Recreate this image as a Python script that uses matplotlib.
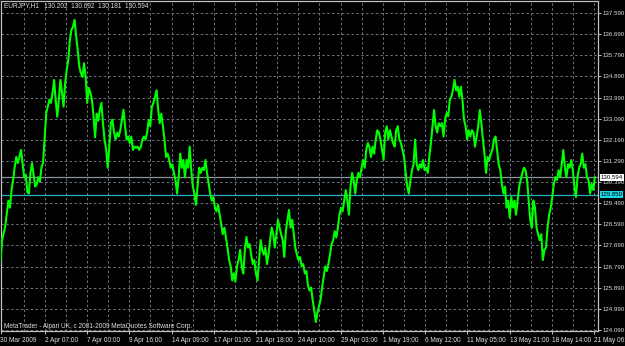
import numpy as np
import matplotlib
matplotlib.use("Agg")
import matplotlib.pyplot as plt
import matplotlib.transforms as mtransforms

plt.rcParams['font.family'] = ['Liberation Sans', 'DejaVu Sans']

symbol = "EURJPY,H1"
ohlc = [130.202, 130.692, 130.181, 130.594]
last_price = 130.594
hline_price = 129.850

date_labels = ["30 Mar 2009", "2 Apr 07:00", "7 Apr 00:00", "9 Apr 16:00", "14 Apr 09:00",
               "17 Apr 01:00", "21 Apr 18:00", "24 Apr 10:00", "29 Apr 03:00", "1 May 19:00",
               "6 May 12:00", "11 May 05:00", "13 May 21:00", "18 May 14:00", "21 May 06:00"]
price_ticks = [124.09, 124.99, 125.89, 126.79, 127.69, 128.59, 129.49, 130.39,
               131.29, 132.19, 133.09, 133.99, 134.89, 135.79, 136.69, 137.59]

# hourly closes (one value every ~2.5 bars)
close_prices = [
    127.0, 127.92, 128.2, 128.5, 129.07, 129.6, 129.3, 130.05, 130.48, 131.03, 131.46, 131.2,
    131.46, 131.76, 131.2, 130.6, 130.7, 129.97, 129.9, 130.78, 131.2, 130.7, 130.2, 130.3,
    130.6, 130.4, 131.03, 131.2, 132.3, 133.33, 133.6, 133.9, 133.76, 134.18, 134.74, 133.9,
    133.17, 133.9, 134.74, 134.2, 133.6, 134.6, 135.16, 135.6, 136.44, 136.87, 137.0, 137.3,
    136.6, 136.0, 135.3, 135.03, 134.87, 135.45, 134.87, 133.76, 134.4, 134.2, 133.9, 133.2,
    132.3, 133.3, 133.0, 133.47, 133.76, 132.9, 132.18, 131.8, 131.0, 131.9, 132.9, 133.05,
    132.5, 132.2, 132.5, 132.33, 132.6, 133.05, 133.47, 132.77, 132.2, 132.33, 132.05, 132.33,
    131.76, 131.9, 131.85, 131.9, 131.76, 131.9, 132.2, 132.33,
    132.2, 132.5, 133.03, 132.77, 133.6, 133.76, 134.02, 134.3, 133.47, 132.9, 133.3, 132.77,
    132.2, 131.46, 131.6, 131.33, 131.0, 131.15, 130.78, 130.48, 129.9, 130.6, 131.6, 131.0,
    131.33, 130.6, 131.33, 131.0, 131.9, 130.9, 130.2, 129.9, 129.42, 130.2, 131.0, 130.78,
    131.0, 130.9, 131.33, 130.78, 130.33, 129.9, 129.6, 129.75, 129.3, 129.14, 129.42, 129.0,
    128.6, 128.17, 128.45, 128.03, 127.6, 127.07, 126.8, 126.2, 126.5, 126.15, 126.8, 127.07,
    127.5, 126.8, 126.5, 127.5, 128.05, 127.6, 127.75, 127.3, 126.9, 127.07, 126.5, 126.2,
    127.07, 127.92, 127.5, 127.3, 127.6, 126.9, 127.3, 127.92, 128.45, 128.17, 127.6, 128.17,
    128.78, 128.45, 128.17, 127.92, 127.2, 128.3, 128.78,
    129.2, 128.45, 128.78, 128.17, 127.6, 127.3, 127.07, 127.2, 126.8, 126.9, 126.5, 126.6,
    126.0, 125.77, 125.9, 125.37, 124.94, 124.43, 124.8, 125.1, 125.37, 125.9, 126.35, 126.8,
    126.6, 126.9, 127.3, 127.75, 127.92, 128.3, 128.03, 128.45, 129.0, 129.3, 129.14, 129.6,
    130.05, 129.6, 129.0, 130.2, 130.78, 130.48, 129.9, 130.48, 130.78, 130.6, 131.0, 131.33,
    131.0, 131.76, 132.05, 131.9, 131.46, 131.9, 131.6, 132.2, 132.6, 132.5, 132.2, 131.76,
    131.33, 132.5, 132.77, 132.2, 132.6, 132.33, 132.05, 131.9, 132.6, 132.77, 132.2, 132.05,
    131.76, 131.46, 130.78, 130.2, 129.9, 130.48, 130.9, 131.15, 132.2, 131.15, 130.9, 131.15,
    131.0, 131.33, 130.9, 131.0, 130.78, 131.46, 132.05, 132.77, 133.46, 132.77, 132.5, 132.9,
    132.77,
    132.9, 132.33, 133.05, 133.33, 133.2, 133.9, 134.03, 134.3, 134.74, 134.3, 134.45, 134.03,
    134.45, 133.9, 133.05, 132.77, 132.2, 132.6, 132.33, 132.6, 132.5, 131.9, 132.33, 132.77,
    133.46, 132.9, 132.2, 131.6, 130.78, 131.46, 131.33, 131.6, 131.76, 132.2, 132.33, 131.76,
    131.15, 130.9, 130.33, 129.9, 130.2, 129.3, 129.6, 128.87, 129.75, 129.3, 129.6, 129.0,
    129.6, 130.2, 130.48, 130.78, 131.0, 130.9, 130.48, 129.6, 128.78, 128.45, 129.6, 129.3,
    128.45, 128.17, 127.92, 128.17, 127.07, 127.5, 127.6, 128.45, 129.0, 129.3, 129.75, 130.33,
    130.6, 130.48, 130.9, 130.6, 131.15, 131.76, 131.0, 130.6, 131.15, 131.0, 131.33, 130.9,
    130.2, 129.75, 130.6, 131.0, 131.15, 131.6, 131.0, 131.15, 130.6, 130.48, 129.9, 130.33,
    130.05, 130.594,
]

n_bars = 901          # bars shown on screen
bar_step = 64         # bars between date labels
fs = 4.7              # date labels, header, copyright
fs_price = 4.4        # price scale

W, H = 625, 346
fig = plt.figure(figsize=(W / 100, H / 100), dpi=100, facecolor="black")
ax = fig.add_axes([0.5 / W, (H - 331) / H, 597 / W, 330 / H])
ax.set_facecolor("black")

x = np.linspace(0, n_bars - 1, len(close_prices))
ax.plot(x, close_prices, color="#00ff00", lw=1.5, zorder=3)

ax.set_xlim(0, n_bars + 3)
ax.set_ylim(124.09 - 1 / 23.48, 124.09 + 329 / 23.48)

grid_kw = dict(color="#6b7585", lw=0.7, ls=(0, (2.5, 2.5)), zorder=1)
for p in price_ticks:
    ax.axhline(p, **grid_kw)
for k in range(1, 2 * len(date_labels)):
    ax.axvline(3 + k * bar_step / 2, **grid_kw)

ax.axhline(last_price, color="#8a929c", lw=0.9, zorder=2)
ax.axhline(hline_price, color="#2ab0c0", lw=0.9, zorder=2)

xt = [0] + [3 + bar_step * i for i in range(1, len(date_labels))]
ax.set_xticks(xt)
ax.set_xticklabels(date_labels, ha="left", fontsize=fs, color="#e0e0e0")
ax.yaxis.tick_right()
ax.set_yticks(price_ticks)
ax.set_yticklabels(["%.3f" % p for p in price_ticks], fontsize=fs_price, color="#e0e0e0")
ax.tick_params(axis="both", length=2.5, width=0.7, color="#c0c0c0", pad=1.5)
for s in ax.spines.values():
    s.set_color("#c0c0c0")
    s.set_linewidth(0.9)

trans = mtransforms.blended_transform_factory(ax.transAxes, ax.transData)
ax.text(1.005, last_price, "%.3f" % last_price, transform=trans, fontsize=fs_price, color="black",
        va="center", ha="left", zorder=10, clip_on=False,
        bbox=dict(boxstyle="square,pad=0.15", fc="white", ec="none"))
ax.text(1.005, hline_price, "%.3f" % hline_price, transform=trans, fontsize=fs_price, color="black",
        va="center", ha="left", zorder=10, clip_on=False,
        bbox=dict(boxstyle="square,pad=0.15", fc="#19d8e8", ec="none"))

ax.text(3 / 597, 1 - 5 / 330, symbol + "   " + "  ".join("%.3f" % v for v in ohlc),
        transform=ax.transAxes, fontsize=fs, color="#e0e0e0", va="center", ha="left")
ax.text(3 / 597, 5 / 330, "MetaTrader - Alpari UK, c 2001-2009 MetaQuotes Software Corp.",
        transform=ax.transAxes, fontsize=fs, color="#e0e0e0", va="center", ha="left")

fig.savefig("out.png", dpi=100, facecolor="black")
